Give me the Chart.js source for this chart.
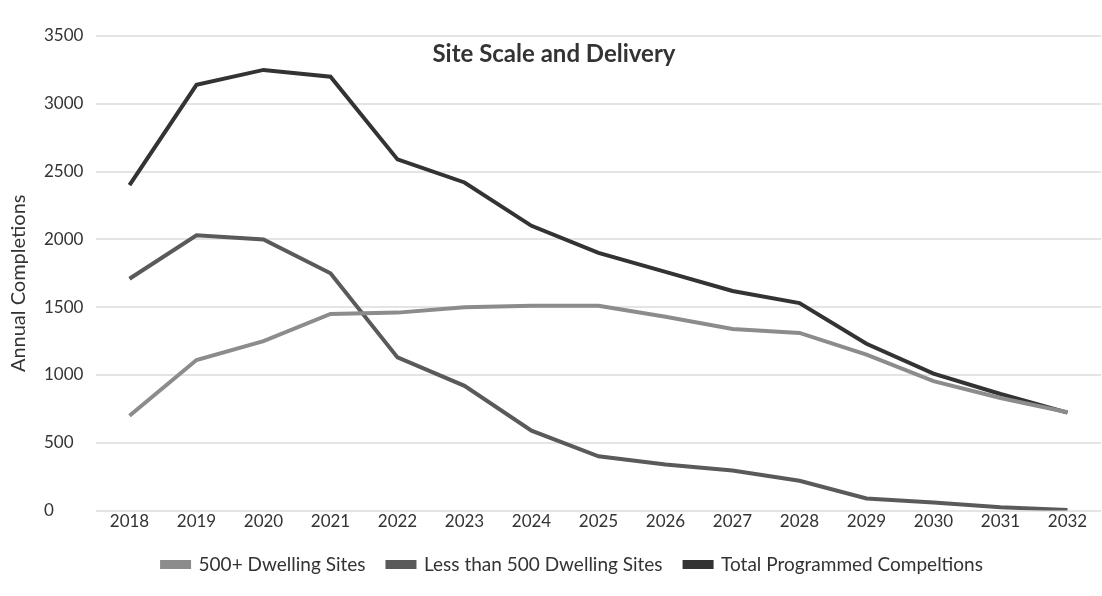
<!DOCTYPE html>
<html>
<head>
<meta charset="utf-8">
<script src="https://cdn.jsdelivr.net/npm/chart.js@4/dist/chart.umd.min.js"></script>
<style>
  html, body { margin: 0; padding: 0; background: #fff; }
  .chart-container { position: relative; width: 1102px; height: 596px; }
</style>
</head>
<body>
<div class="chart-container"><canvas id="chart"></canvas></div>
<script>
var years = ['2018', '2019', '2020', '2021', '2022', '2023', '2024', '2025', '2026', '2027', '2028', '2029', '2030', '2031', '2032'];
var largeSites = [700, 1110, 1250, 1450, 1460, 1500, 1510, 1510, 1430, 1340, 1310, 1150, 955, 830, 725];
var smallSites = [1710, 2030, 2000, 1750, 1130, 920, 590, 400, 340, 295, 220, 90, 60, 25, 5];
var totalCompletions = [2400, 3140, 3250, 3200, 2590, 2420, 2100, 1900, 1760, 1620, 1530, 1230, 1010, 860, 722];
var yTicks = [0, 500, 1000, 1500, 2000, 2500, 3000, 3500];

var fontFamily = 'Lato, "Open Sans", sans-serif';

// title sits inside the plot area and the axis title hugs the left edge, like the source image
var extraText = {
    id: 'extraText',
    afterDraw: function (chart) {
        var ctx = chart.ctx;
        var area = chart.chartArea;
        ctx.save();
        ctx.fillStyle = '#333';
        ctx.textAlign = 'center';
        ctx.textBaseline = 'middle';
        ctx.font = 'bold 24px ' + fontFamily;
        ctx.fillText('Site Scale and Delivery', 554, 54);

        ctx.font = '20px ' + fontFamily;
        ctx.translate(19, (area.top + area.bottom) / 2 + 10);
        ctx.rotate(-Math.PI / 2);
        ctx.fillText('Annual Completions', 0, 0);
        ctx.restore();
    }
};

window.onload = function () {
    var ctx = document.getElementById('chart').getContext('2d');
    new Chart(ctx, {
        type: 'line',
        data: {
            labels: years,
            datasets: [{
                label: '500+ Dwelling Sites',
                data: largeSites,
                borderColor: '#8c8c8c',
                backgroundColor: '#8c8c8c',
                borderWidth: 4,
                pointRadius: 0,
                fill: false
            }, {
                label: 'Less than 500 Dwelling Sites',
                data: smallSites,
                borderColor: '#5a5a5a',
                backgroundColor: '#5a5a5a',
                borderWidth: 4,
                pointRadius: 0,
                fill: false
            }, {
                label: 'Total Programmed Compeltions',
                data: totalCompletions,
                borderColor: '#333333',
                backgroundColor: '#333333',
                borderWidth: 4,
                pointRadius: 0,
                fill: false
            }]
        },
        options: {
            responsive: true,
            maintainAspectRatio: false,
            animation: false,
            layout: {
                padding: { top: 36, right: 1, bottom: 12, left: 44 }
            },
            plugins: {
                title: { display: false },
                tooltip: { enabled: false },
                legend: {
                    position: 'bottom',
                    labels: {
                        boxWidth: 27,
                        boxHeight: 5,
                        padding: 22,
                        color: '#333',
                        font: { family: fontFamily, size: 19 }
                    }
                }
            },
            scales: {
                x: {
                    offset: true,
                    grid: { display: false, drawTicks: false },
                    border: { display: false },
                    ticks: {
                        color: '#333',
                        padding: 1,
                        maxRotation: 0,
                        font: { family: fontFamily, size: 17 }
                    }
                },
                y: {
                    min: 0,
                    max: 3500,
                    afterBuildTicks: function (axis) {
                        axis.ticks = yTicks.map(function (v) { return { value: v }; });
                    },
                    afterFit: function (axis) { axis.width = 52; },
                    grid: { color: '#e4e4e4', lineWidth: 2, drawTicks: false },
                    border: { display: false },
                    ticks: {
                        color: '#333',
                        crossAlign: 'far',
                        font: { family: fontFamily, size: 17 },
                        callback: function (value) { return String(value); }
                    }
                }
            }
        },
        plugins: [extraText]
    });
};
</script>
</body>
</html>
